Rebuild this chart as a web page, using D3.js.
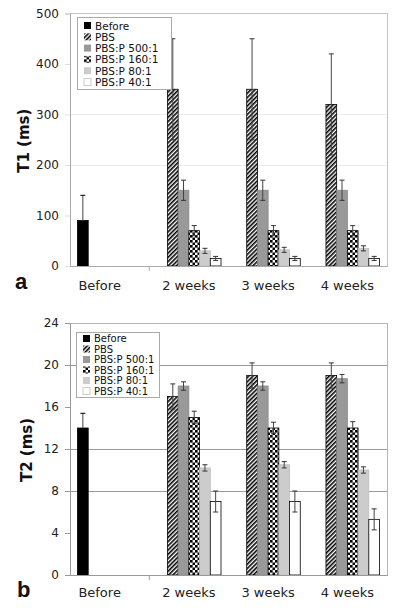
<!DOCTYPE html>
<html><head><meta charset="utf-8">
<script src="https://cdn.jsdelivr.net/npm/d3@7"></script>
<style>body{margin:0;background:#fff}svg{display:block}</style>
</head><body>
<script>
// ---------- DATA ----------
const categories = ["Before", "2 weeks", "3 weeks", "4 weeks"];
const seriesNames = ["Before", "PBS", "PBS:P 500:1", "PBS:P 160:1", "PBS:P 80:1", "PBS:P 40:1"];

// T1 (ms) values per series, one per category
const t1Before = [90, 0, 0, 0];
const t1PBS    = [0, 350, 350, 320];
const t1P500   = [0, 150, 150, 150];
const t1P160   = [0, 70, 70, 70];
const t1P80    = [0, 30, 32, 35];
const t1P40    = [0, 15, 15, 15];
// T1 error (±)
const t1BeforeErr = [50, 0, 0, 0];
const t1PBSErr    = [0, 100, 100, 100];
const t1P500Err   = [0, 20, 20, 20];
const t1P160Err   = [0, 10, 10, 10];
const t1P80Err    = [0, 5, 5, 5];
const t1P40Err    = [0, 4, 4, 4];
const t1Ticks = [0, 100, 200, 300, 400, 500];
const t1Grid  = [200, 300];

// T2 (ms)
const t2Before = [14, 0, 0, 0];
const t2PBS    = [0, 17, 19, 19];
const t2P500   = [0, 18, 18, 18.7];
const t2P160   = [0, 15, 14, 14];
const t2P80    = [0, 10.2, 10.5, 10];
const t2P40    = [0, 7, 7, 5.3];
const t2BeforeErr = [1.4, 0, 0, 0];
const t2PBSErr    = [0, 1.2, 1.2, 1.2];
const t2P500Err   = [0, 0.4, 0.4, 0.4];
const t2P160Err   = [0, 0.6, 0.55, 0.6];
const t2P80Err    = [0, 0.3, 0.3, 0.3];
const t2P40Err    = [0, 1.0, 1.0, 1.0];
const t2Ticks = [0, 4, 8, 12, 16, 20, 24];
const t2Grid  = [8, 12, 20];

// ---------- STYLES ----------
const seriesFill   = ["#000", "url(#hatch)", "#999", "url(#checker)", "#ccc", "#fff"];
const seriesStroke = ["#000", "#000", "#8a8a8a", "#000", "#bdbdbd", "#000"];
const legendStroke = ["none", "none", "none", "none", "none", "#ccc"];

const svg = d3.select("body").append("svg").attr("width", 400).attr("height", 610);
const defs = svg.append("defs");
const hatch = defs.append("pattern").attr("id", "hatch").attr("patternUnits", "userSpaceOnUse")
  .attr("width", 3).attr("height", 3).attr("patternTransform", "rotate(45)");
hatch.append("rect").attr("width", 3).attr("height", 3).attr("fill", "#fff");
hatch.append("line").attr("x1", 0.8).attr("y1", 0).attr("x2", 0.8).attr("y2", 3)
  .attr("stroke", "#000").attr("stroke-width", 1.6);
const checker = defs.append("pattern").attr("id", "checker").attr("patternUnits", "userSpaceOnUse")
  .attr("width", 5).attr("height", 5);
checker.append("rect").attr("width", 5).attr("height", 5).attr("fill", "#fff");
checker.append("rect").attr("width", 2.6).attr("height", 2.6).attr("fill", "#000");
checker.append("rect").attr("x", 2.5).attr("y", 2.5).attr("width", 2.6).attr("height", 2.6).attr("fill", "#000");

function panel(cfg) {
  const x0 = d3.scaleBand().domain(categories).range([cfg.left, cfg.right]).paddingInner(0).paddingOuter(0);
  const x1 = d3.scaleBand().domain(seriesNames).range([0, x0.bandwidth()]).paddingInner(0).paddingOuter(0.7);
  const y = d3.scaleLinear().domain([0, cfg.yMax]).range([cfg.bottom, cfg.top]);
  const g = svg.append("g");

  // gridlines
  g.selectAll(".grid").data(cfg.grid).join("line")
    .attr("x1", cfg.left).attr("x2", cfg.right)
    .attr("y1", d => y(d)).attr("y2", d => y(d))
    .attr("stroke", cfg.gridColor).attr("stroke-width", 1).attr("shape-rendering", "crispEdges");

  // plot border
  g.append("rect").attr("x", cfg.left).attr("y", y(cfg.yMax))
    .attr("width", cfg.right - cfg.left).attr("height", y(0) - y(cfg.yMax))
    .attr("fill", "none").attr("stroke", cfg.borderColor).attr("shape-rendering", "crispEdges");

  // bars
  const rows = [];
  cfg.values.forEach((vals, j) => vals.forEach((v, i) => {
    if (v > 0) rows.push({cat: categories[i], s: seriesNames[j], j, v, e: cfg.errors[j][i]});
  }));
  g.selectAll(".bar").data(rows).join("rect")
    .attr("x", d => x0(d.cat) + x1(d.s))
    .attr("y", d => y(d.v))
    .attr("width", x1.bandwidth())
    .attr("height", d => y(0) - y(d.v))
    .attr("fill", d => seriesFill[d.j])
    .attr("stroke", d => seriesStroke[d.j]).attr("stroke-width", 0.8);

  // error bars
  const eb = g.selectAll(".err").data(rows.filter(d => d.e > 0)).join("g")
    .attr("stroke", d => d.j === 0 ? "#000" : "#333").attr("stroke-width", 1);
  const cx = d => x0(d.cat) + x1(d.s) + x1.bandwidth() / 2;
  eb.append("line").attr("x1", cx).attr("x2", cx)
    .attr("y1", d => y(d.v - d.e)).attr("y2", d => y(d.v + d.e)).attr("stroke", "#444");
  eb.append("line").attr("x1", d => cx(d) - 2.5).attr("x2", d => cx(d) + 2.5)
    .attr("y1", d => y(d.v + d.e)).attr("y2", d => y(d.v + d.e));
  eb.append("line").attr("x1", d => cx(d) - 2.5).attr("x2", d => cx(d) + 2.5)
    .attr("y1", d => y(d.v - d.e)).attr("y2", d => y(d.v - d.e));
  // hide whisker part inside the solid black bar
  g.selectAll(".cover").data(rows.filter(d => d.j === 0)).join("rect")
    .attr("x", d => x0(d.cat) + x1(d.s) + 0.4)
    .attr("y", d => y(d.v) + 0.4)
    .attr("width", x1.bandwidth() - 0.8)
    .attr("height", d => y(0) - y(d.v) - 0.8)
    .attr("fill", "#000");

  // y axis
  const ya = g.append("g").attr("transform", `translate(${cfg.left},0)`)
    .call(d3.axisLeft(y).tickValues(cfg.ticks).tickSize(5).tickPadding(6).tickFormat(d3.format("d")));
  ya.select(".domain").attr("stroke", cfg.axisColor);
  ya.selectAll(".tick line").attr("stroke", cfg.tickColor);
  ya.selectAll("text").attr("font-family", "DejaVu Sans").attr("font-size", 12).attr("fill", "#222");

  // x axis
  const xa = g.append("g").attr("transform", `translate(0,${y(0)})`)
    .call(d3.axisBottom(x0).tickSize(0).tickPadding(cfg.xPad));
  xa.select(".domain").attr("stroke", cfg.axisColor);
  xa.selectAll("text").attr("font-family", "DejaVu Sans").attr("font-size", 13).attr("fill", "#222")
    .attr("dx", (d, i) => i === 0 ? -10 : 0);
  g.append("line").attr("x1", x0(categories[1])).attr("x2", x0(categories[1]))
    .attr("y1", y(0)).attr("y2", y(0) + 5).attr("stroke", cfg.axisColor);

  // axis title
  g.append("text").attr("transform", `translate(${cfg.titleX},${(y(0) + y(cfg.yMax)) / 2 + 1}) rotate(-90)`)
    .attr("text-anchor", "middle").attr("dominant-baseline", "central")
    .attr("font-family", "DejaVu Sans").attr("font-weight", "bold").attr("font-size", 15)
    .attr("fill", "#111").text(cfg.title);

  // panel letter
  g.append("text").attr("x", cfg.letterX).attr("y", cfg.letterY)
    .attr("font-family", "Liberation Sans").attr("font-weight", "bold").attr("font-size", 22)
    .attr("fill", "#111").text(cfg.letter);

  // legend
  const L = cfg.legend;
  const lg = g.append("g");
  lg.append("rect").attr("x", L.x).attr("y", L.y).attr("width", L.w).attr("height", L.h)
    .attr("fill", "#fff").attr("stroke", "#aaa").attr("shape-rendering", "crispEdges");
  const items = lg.selectAll(".li").data(seriesNames).join("g")
    .attr("transform", (d, i) => `translate(${L.x + 7},${L.y + L.first + i * L.step})`);
  items.append("rect").attr("x", 0).attr("y", -3.5).attr("width", 7).attr("height", 7)
    .attr("fill", (d, i) => seriesFill[i]).attr("stroke", (d, i) => legendStroke[i]);
  items.append("text").attr("x", 11).attr("y", 0).attr("dominant-baseline", "central")
    .attr("font-family", "DejaVu Sans").attr("font-size", L.font).attr("fill", "#111").text(d => d);
}

panel({
  left: 70, right: 387, top: 13.5, bottom: 266, yMax: 500,
  ticks: t1Ticks, grid: t1Grid,
  values: [t1Before, t1PBS, t1P500, t1P160, t1P80, t1P40],
  errors: [t1BeforeErr, t1PBSErr, t1P500Err, t1P160Err, t1P80Err, t1P40Err],
  gridColor: "#ececec", borderColor: "#c4c4c4", axisColor: "#aaa", tickColor: "#ddd",
  xPad: 15, title: "T1 (ms)", titleX: 24, letter: "a", letterX: 15, letterY: 289,
  legend: {x: 77, y: 17, w: 94, h: 72, first: 8.5, step: 11.3, font: 10.5}
});
panel({
  left: 70, right: 387, top: 323, bottom: 575, yMax: 24,
  ticks: t2Ticks, grid: t2Grid,
  values: [t2Before, t2PBS, t2P500, t2P160, t2P80, t2P40],
  errors: [t2BeforeErr, t2PBSErr, t2P500Err, t2P160Err, t2P80Err, t2P40Err],
  gridColor: "#9a9a9a", borderColor: "#b5b5b5", axisColor: "#999", tickColor: "#999",
  xPad: 13, title: "T2 (ms)", titleX: 27, letter: "b", letterX: 17, letterY: 597,
  legend: {x: 76, y: 332, w: 83, h: 65, first: 6.5, step: 10.5, font: 10}
});
</script>
</body></html>
